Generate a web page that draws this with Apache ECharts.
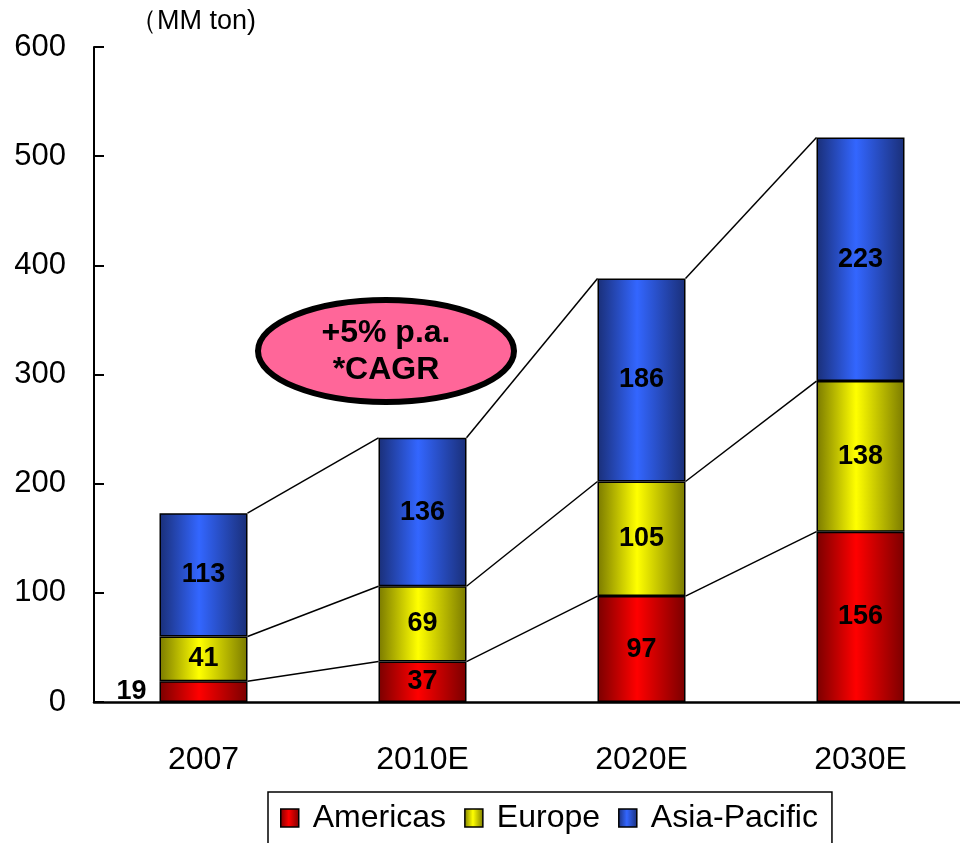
<!DOCTYPE html>
<html>
<head>
<meta charset="utf-8">
<script src="https://cdn.jsdelivr.net/npm/echarts@6/dist/echarts.min.js"></script>
<style>
  html, body { margin: 0; padding: 0; background: #fff; }
  #chart { width: 960px; height: 843px; }
</style>
</head>
<body>
<div id="chart"></div>
<script>
// Regional demand, MM ton
const categories = ['2007', '2010E', '2020E', '2030E'];
const americas = [19, 37, 97, 156];
const europe = [41, 69, 105, 138];
const asiaPacific = [113, 136, 186, 223];
const yTicks = { min: 0, max: 600, interval: 100 };
const unitLabel = '（MM ton)';
const cagrLines = ['+5% p.a.', '*CAGR'];

const BAR_W = 88;
const FONT = 'Arial, "Liberation Sans", sans-serif';

function shade(dark, bright) {
  return new echarts.graphic.LinearGradient(0, 0, 1, 0, [
    { offset: 0, color: dark },
    { offset: 0.45, color: bright },
    { offset: 1, color: dark }
  ]);
}

const seriesDefs = [
  { name: 'Americas', data: americas, fill: shade('#7a0000', '#ff0000') },
  { name: 'Europe', data: europe, fill: shade('#7a7a00', '#ffff00') },
  { name: 'Asia-Pacific', data: asiaPacific, fill: shade('#1a2f78', '#3366ff') }
];

// cumulative tops of each stack level, used for the connector lines
const levels = [];
let running = categories.map(() => 0);
seriesDefs.forEach(s => {
  running = running.map((r, i) => r + s.data[i]);
  levels.push(running.slice());
});
const connectorData = [];
levels.forEach(lv => {
  for (let i = 0; i < categories.length - 1; i++) {
    connectorData.push([i, lv[i], lv[i + 1]]);
  }
});

const labelStyle = {
  show: true,
  position: 'inside',
  color: '#000',
  fontFamily: FONT,
  fontSize: 27,
  fontWeight: 'bold'
};

const barSeries = seriesDefs.map((s, si) => ({
  name: s.name,
  type: 'bar',
  stack: 'total',
  barWidth: BAR_W,
  z: 3,
  itemStyle: { color: s.fill, borderColor: '#000', borderWidth: 1.5 },
  label: labelStyle,
  data: s.data.map((v, i) => (si === 0 && i === 0)
    ? { value: v, label: { position: 'left', distance: 13 } }
    : v)
}));

const connectors = {
  type: 'custom',
  z: 2,
  silent: true,
  data: connectorData,
  renderItem: function (params, api) {
    const a = api.coord([api.value(0), api.value(1)]);
    const b = api.coord([api.value(0) + 1, api.value(2)]);
    return {
      type: 'line',
      shape: { x1: a[0] + BAR_W / 2, y1: a[1], x2: b[0] - BAR_W / 2, y2: b[1] },
      style: { stroke: '#000', lineWidth: 1.5 }
    };
  },
  encode: { x: 0, y: 1 }
};

const chart = echarts.init(document.getElementById('chart'), null, { renderer: 'canvas' });
chart.setOption({
  animation: false,
  backgroundColor: '#fff',
  grid: { left: 94, top: 47, width: 876, height: 655, outerBoundsMode: 'none', containLabel: false },
  legend: {
    data: seriesDefs.map(s => s.name),
    left: 268,
    top: 792,
    orient: 'horizontal',
    icon: 'rect',
    itemWidth: 18,
    itemHeight: 18,
    itemGap: 18,
    padding: [10, 14, 12, 12],
    borderColor: '#000',
    borderWidth: 1.5,
    itemStyle: { borderColor: '#000', borderWidth: 1.5 },
    textStyle: { fontFamily: FONT, fontSize: 32, color: '#000', padding: [0, 0, 0, 9] }
  },
  xAxis: {
    type: 'category',
    data: categories,
    axisLine: { lineStyle: { color: '#000', width: 2.5 } },
    axisTick: { inside: true, length: 10, lineStyle: { color: '#000', width: 1.5 } },
    axisLabel: { color: '#000', fontFamily: FONT, fontSize: 32, margin: 42 }
  },
  yAxis: {
    type: 'value',
    min: yTicks.min,
    max: yTicks.max,
    interval: yTicks.interval,
    axisLine: { show: true, lineStyle: { color: '#000', width: 2 } },
    axisTick: { show: true, inside: true, length: 10, lineStyle: { color: '#000', width: 2 } },
    splitLine: { show: false },
    axisLabel: { color: '#000', fontFamily: FONT, fontSize: 31, margin: 28 }
  },
  graphic: [
    {
      type: 'text',
      left: 130,
      top: 8,
      style: { text: unitLabel, font: '27px ' + FONT, fill: '#000' }
    },
    {
      type: 'ellipse',
      shape: { cx: 386, cy: 351, rx: 128, ry: 51 },
      style: { fill: '#ff6699', stroke: '#000', lineWidth: 6 },
      z: 10
    },
    {
      type: 'text',
      x: 386,
      y: 352,
      style: {
        text: cagrLines.join('\n'),
        font: 'bold 32px ' + FONT,
        fill: '#000',
        align: 'center',
        verticalAlign: 'middle',
        lineHeight: 37
      },
      z: 11
    }
  ],
  series: [connectors].concat(barSeries)
});
</script>
</body>
</html>
